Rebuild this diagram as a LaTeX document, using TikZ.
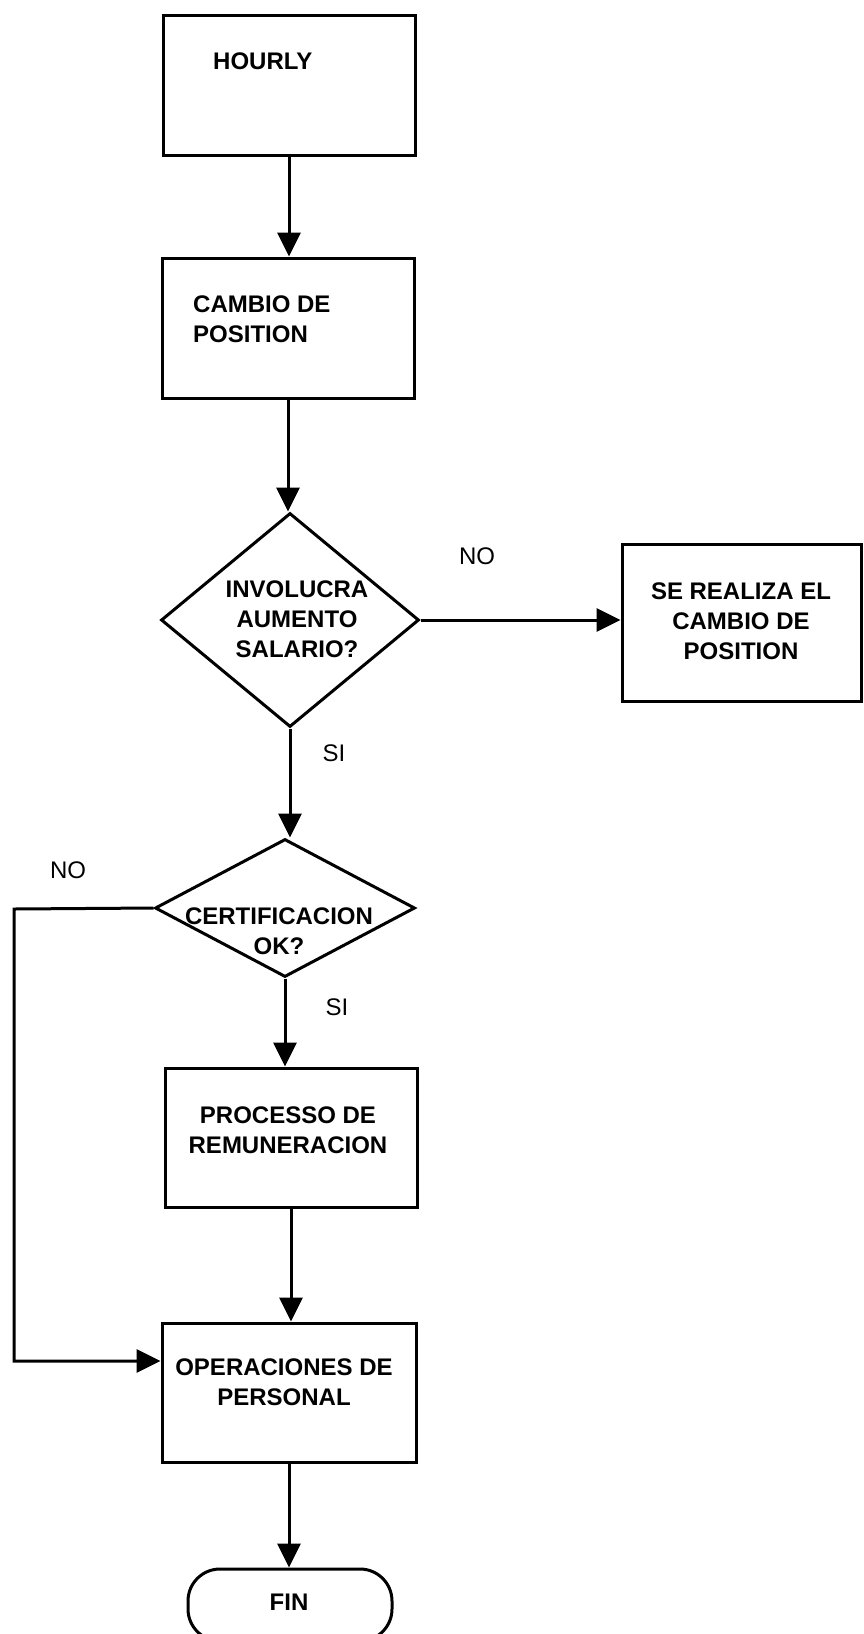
\documentclass[tikz,border=0pt]{standalone}
\usepackage{fontspec}
\setmainfont{Liberation Sans}
\usetikzlibrary{shapes.geometric,arrows.meta}
\begin{document}
\begin{tikzpicture}[x=1pt,y=-1pt,
  boxnode/.style={draw,line width=3pt,rectangle,inner sep=0pt},
  decision/.style={draw,line width=3pt,diamond,inner sep=0pt},
  endnode/.style={draw,line width=3pt,rectangle,rounded corners=32pt,inner sep=0pt},
  boxtext/.style={inner sep=0pt,font=\fontsize{24}{30}\selectfont\bfseries,align=center},
  lbl/.style={inner sep=0pt,font=\fontsize{24}{28}\selectfont},
  flow/.style={line width=3pt},
  arr/.style={flow,-{Triangle[length=24pt,width=23pt]}}]
\useasboundingbox (0,0) rectangle (863,1634);
\fill[white] (0,0) rectangle (863,1634);

% shapes
\node[boxnode,minimum width=252pt,minimum height=140pt] (hourly) at (289,85) {};
\node[boxnode,minimum width=252pt,minimum height=140pt] (cambio) at (288,328) {};
\node[decision,minimum width=258pt,minimum height=214pt] (d1) at (290,620) {};
\node[boxnode,minimum width=239pt,minimum height=157pt] (realiza) at (741.5,622.5) {};
\node[decision,minimum width=260pt,minimum height=138pt] (d2) at (285,908) {};
\node[boxnode,minimum width=252pt,minimum height=139pt] (proc) at (291,1137.5) {};
\node[boxnode,minimum width=254pt,minimum height=139pt] (ops) at (289,1392.5) {};
\node[endnode,minimum width=204pt,minimum height=72pt] (fin) at (290,1605) {};

% texts
\node[boxtext,anchor=west] (thourly) at (213,61) {HOURLY};
\node[boxtext,anchor=west,align=left] (tcambio) at (193,319) {CAMBIO DE\\POSITION};
\node[boxtext] (td1) at (297,619) {INVOLUCRA\\AUMENTO\\SALARIO?};
\node[boxtext] (trealiza) at (741,621) {SE REALIZA EL\\CAMBIO DE\\POSITION};
\node[boxtext] (td2) at (279,931) {CERTIFICACION\\OK?};
\node[boxtext] (tproc) at (288,1130) {PROCESSO DE\\REMUNERACION};
\node[boxtext] (tops) at (284,1382) {OPERACIONES DE\\PERSONAL};
\node[boxtext] (tfin) at (289,1602) {FIN};

% branch labels
\node[lbl] (no1) at (477,556) {NO};
\node[lbl] (si1) at (334,753) {SI};
\node[lbl] (no2) at (68,870) {NO};
\node[lbl] (si2) at (337,1007) {SI};

% connectors
\coordinate (loopTop) at (14,909);
\coordinate (loopBot) at (14,1361);
\draw[arr] (hourly.south) -- (hourly.south |- cambio.north);
\draw[arr] (cambio.south) -- (cambio.south |- d1.north);
\draw[arr] (d1.east) -- (d1.east -| realiza.west);
\draw[arr] (d1.south) -- (d1.south |- d2.north);
\draw[arr] (d2.south) -- (d2.south |- proc.north);
\draw[arr] (proc.south) -- (proc.south |- ops.north);
\draw[arr] (ops.south) -- (ops.south |- fin.north);
\draw[arr,line join=miter] (d2.west) -- (loopTop) -- (loopBot) -- (loopBot -| ops.west);
\end{tikzpicture}
\end{document}
